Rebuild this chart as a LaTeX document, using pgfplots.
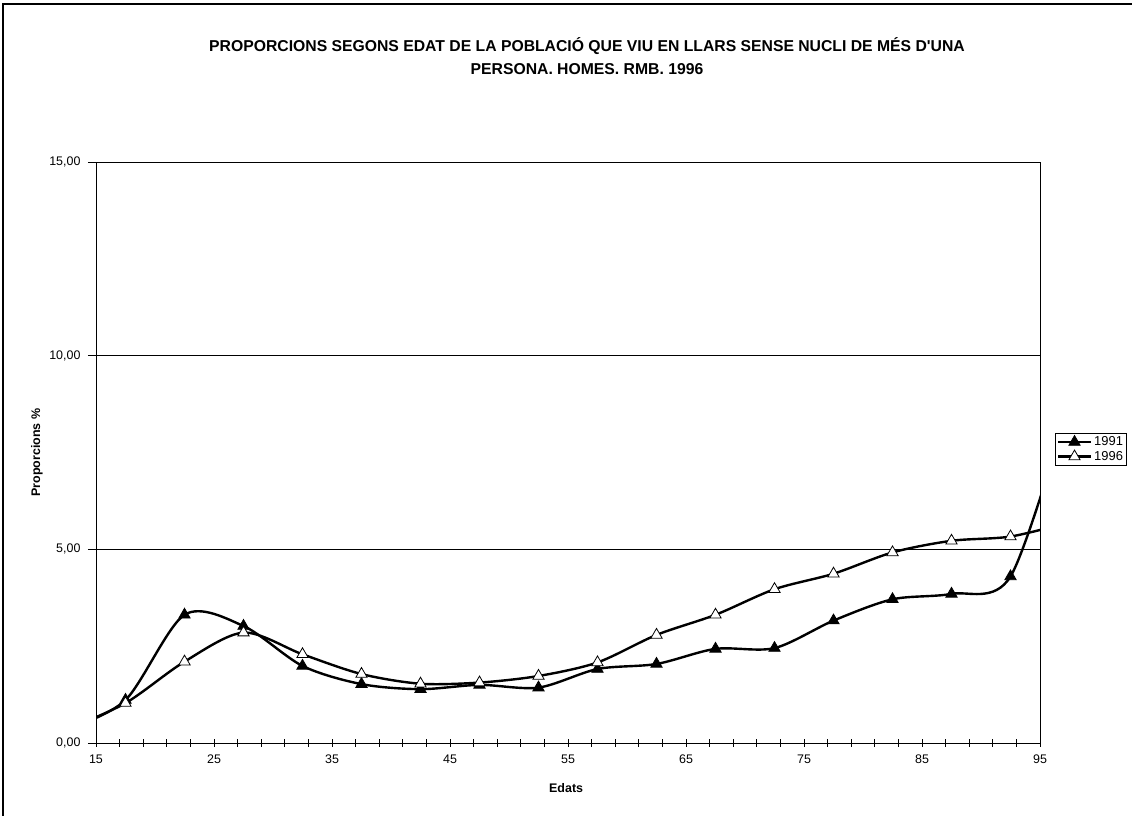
\documentclass[border=0pt]{standalone}
\usepackage{pgfplots}
\pgfplotsset{compat=1.18}
\usepackage{fontspec}
\setmainfont{Liberation Sans}[Ligatures=TeXOff]
\begin{document}
\begin{tikzpicture}[x=1bp,y=1bp]
\useasboundingbox (0,0) rectangle (1132,816);
\fill[white] (0,0) rectangle (1132,816);
\draw[line width=2bp] (3,0) -- (3,812) -- (1132,812);
\node[align=center,font=\fontsize{15.8}{23}\selectfont\bfseries] at (587,759.5)
  {PROPORCIONS SEGONS EDAT DE LA POBLACIÓ QUE VIU EN LLARS SENSE NUCLI DE MÉS D'UNA\\PERSONA. HOMES. RMB. 1996};
\begin{axis}[
  at={(96bp,73bp)}, anchor=south west,
  scale only axis, width=944bp, height=581bp,
  xmin=15, xmax=95, ymin=0, ymax=15,
  xtick={15,25,...,95}, minor xtick={17,19,...,93},
  ytick={0,5,10,15},
  ymajorgrids, major grid style={black, line width=0.8bp},
  axis line style={black, line width=0.9bp},
  x tick style={black, line width=0.9bp},
  minor x tick style={black, line width=0.9bp},
  y tick style={black, line width=0.9bp},
  major tick length=8bp, minor tick length=8bp,
  xtick align=center, ytick align=outside,
  tick pos=left,
  ticklabel style={font=\fontsize{12.5}{14}\selectfont},
  yticklabel style={/pgf/number format/.cd, fixed, fixed zerofill, precision=2, use comma, assume math mode=true},
  xticklabel style={/pgf/number format/assume math mode=true},
  yticklabel shift=4bp,
  xticklabel shift=4bp,
  xlabel={\bfseries Edats},
  ylabel={\bfseries Proporcions \%},
  label style={font=\fontsize{12.5}{14}\selectfont},
  xlabel style={at={(axis description cs:0.498,-0.0775)}, anchor=center},
  ylabel style={at={(axis description cs:-0.0625,0.5)}, anchor=center},
  legend style={at={(rel axis cs:1.0159,0.5336)}, anchor=north west,
    draw=black, line width=0.6bp, font=\fontsize{13}{15}\selectfont,
    inner sep=1.5bp, row sep=0bp, cells={anchor=west}},
  legend image code/.code={\draw[black, line width=2.4bp] (0bp,0bp) -- (33bp,0bp); \draw[#1] plot coordinates {(16.5bp,0bp)};},
]
\addplot[forget plot, black, line width=2.4bp, smooth, no markers] coordinates {
(12.5,0.35) (17.5,1.11) (22.5,3.31) (27.5,3.02) (32.5,1.99) (37.5,1.52)
(42.5,1.39) (47.5,1.50) (52.5,1.43) (57.5,1.91) (62.5,2.04) (67.5,2.43)
(72.5,2.45) (77.5,3.16) (82.5,3.71) (87.5,3.85) (92.5,4.30) (97.5,8.8)
};
\addplot[forget plot, black, line width=2.4bp, smooth, no markers] coordinates {
(12.5,0.35) (17.5,1.03) (22.5,2.10) (27.5,2.85) (32.5,2.29) (37.5,1.78)
(42.5,1.53) (47.5,1.56) (52.5,1.73) (57.5,2.08) (62.5,2.79) (67.5,3.31)
(72.5,3.97) (77.5,4.37) (82.5,4.92) (87.5,5.22) (92.5,5.33) (97.5,5.7)
};
\addplot[only marks, mark=triangle*, mark size=6.5bp,
  mark options={solid, draw=black, line width=0.8bp, fill=black}] coordinates {
(17.5,1.11) (22.5,3.31) (27.5,3.02) (32.5,1.99) (37.5,1.52)
(42.5,1.39) (47.5,1.50) (52.5,1.43) (57.5,1.91) (62.5,2.04) (67.5,2.43)
(72.5,2.45) (77.5,3.16) (82.5,3.71) (87.5,3.85) (92.5,4.30)
};
\addlegendentry{1991}
\addplot[only marks, mark=triangle*, mark size=6.5bp,
  mark options={solid, draw=black, line width=0.8bp, fill=white}] coordinates {
(17.5,1.03) (22.5,2.10) (27.5,2.85) (32.5,2.29) (37.5,1.78)
(42.5,1.53) (47.5,1.56) (52.5,1.73) (57.5,2.08) (62.5,2.79) (67.5,3.31)
(72.5,3.97) (77.5,4.37) (82.5,4.92) (87.5,5.22) (92.5,5.33)
};
\addlegendentry{1996}
\end{axis}
\end{tikzpicture}
\end{document}
